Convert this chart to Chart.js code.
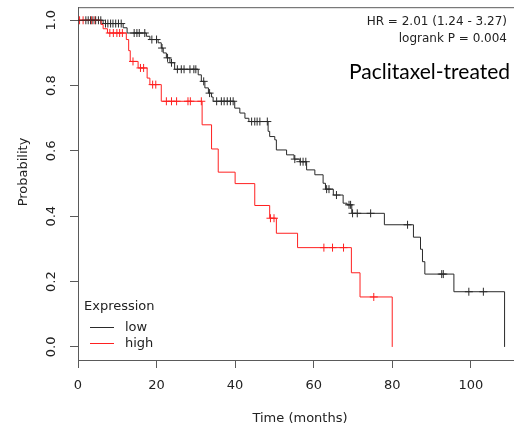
<!DOCTYPE html>
<html>
<head>
<meta charset="utf-8">
<script src="https://cdn.jsdelivr.net/npm/chart.js@4.4.1/dist/chart.umd.min.js"></script>
<style>
  html, body { margin: 0; padding: 0; background: #fff; }
  canvas { display: block; }
</style>
</head>
<body>
<canvas id="km" width="514" height="430"></canvas>
<script>
// Kaplan-Meier steps: event time (months) and survival after that event
const lowTimes = [0, 6.4, 11.5, 12.5, 17.4, 18.3, 20.4, 21.2, 21.7, 22.5, 23.4, 24.6, 30.6, 31.4, 32.3, 33.2, 34.0, 34.4,
  39.9, 41.2, 42.5, 43.5, 48.4, 48.8, 50.1, 50.5, 53.1, 55.0, 56.5, 58.2, 60.3, 62.4, 63.0, 65.0, 67.5, 68.5, 69.7,
  78.0, 85.4, 87.2, 87.7, 88.3, 95.7, 108.6];
const lowSurv = [1, 0.990, 0.977, 0.961, 0.951, 0.941, 0.931, 0.915, 0.900, 0.885, 0.870, 0.850, 0.833, 0.813, 0.793, 0.777, 0.765, 0.752,
  0.731, 0.716, 0.700, 0.690, 0.660, 0.644, 0.634, 0.603, 0.588, 0.575, 0.567, 0.542, 0.527, 0.501, 0.483, 0.465, 0.440, 0.435, 0.409,
  0.374, 0.336, 0.299, 0.261, 0.223, 0.169, 0];
const lowCensor = [2.0, 2.6, 3.2, 3.8, 4.5, 5.2, 5.8, 7.0, 7.6, 8.3, 8.9, 9.6, 10.3, 11.0, 14.3, 15.0, 15.6, 17.0, 18.8,
  20.0, 21.4, 22.8, 23.8, 25.3, 26.3, 27.0, 28.5, 29.5, 30.0, 32.0, 33.5, 35.3, 36.5, 37.2, 38.0, 38.8, 39.5,
  44.2, 45.0, 45.6, 46.3, 48.2, 55.2, 56.6, 57.3, 58.0, 63.3, 63.9, 65.8, 69.0, 69.4, 69.9, 71.1, 74.5, 83.9,
  92.6, 93.0, 99.5, 103.2];

const highTimes = [0, 5.9, 6.4, 7.5, 12.3, 12.9, 13.3, 15.3, 17.6, 18.3, 21.2, 31.6, 34.0, 35.7, 40.0, 45.0, 48.8, 50.5,
  55.9, 69.6, 71.8, 80.0];
const highSurv = [1, 0.987, 0.974, 0.961, 0.941, 0.907, 0.874, 0.854, 0.823, 0.803, 0.752, 0.680, 0.606, 0.535, 0.500, 0.433, 0.394, 0.348,
  0.304, 0.227, 0.153, 0];
const highCensor = [0.4, 1.3, 3.4, 4.3, 8.1, 9.0, 9.9, 10.6, 11.3, 14.0, 15.9, 16.7, 19.0, 19.8, 22.5, 23.8, 25.1, 28.0, 28.6, 31.4,
  49.0, 49.9, 62.6, 64.8, 67.6, 75.3];

const xTicks = [0, 20, 40, 60, 80, 100];
const yTicks = [0, 0.2, 0.4, 0.6, 0.8, 1.0];
const yTickLabels = ['0.0', '0.2', '0.4', '0.6', '0.8', '1.0'];
const groups = ['low', 'high'];
const statLines = ['HR = 2.01 (1.24 - 3.27)', 'logrank P = 0.004'];

const LOW_COLOR = '#2a2a2a';
const HIGH_COLOR = '#ff2020';
const AXIS_COLOR = '#5a5a5a';
const TEXT_COLOR = '#222';
const FONT = '"DejaVu Sans", sans-serif';

function steps(times, surv) {
  return times.map((t, i) => ({ x: t, y: surv[i] }));
}

function survAt(times, surv, t) {
  let s = 1;
  for (let i = 0; i < times.length; i++) if (times[i] <= t) s = surv[i];
  return s;
}

function censorPoints(list, times, surv) {
  return list.map(t => ({ x: t, y: survAt(times, surv, t) }));
}

const decorations = {
  id: 'decorations',
  afterDraw(chart) {
    const { ctx, chartArea: a, scales: { y } } = chart;
    ctx.save();
    // box top
    ctx.strokeStyle = AXIS_COLOR;
    ctx.lineWidth = 1;
    ctx.beginPath();
    ctx.moveTo(a.left, a.top + 0.5);
    ctx.lineTo(a.right, a.top + 0.5);
    ctx.stroke();

    ctx.fillStyle = TEXT_COLOR;
    ctx.font = '13px ' + FONT;
    ctx.textAlign = 'center';
    ctx.textBaseline = 'middle';
    // rotated y tick labels
    yTicks.forEach((v, i) => {
      ctx.save();
      ctx.translate(52, y.getPixelForValue(v));
      ctx.rotate(-Math.PI / 2);
      ctx.fillText(yTickLabels[i], 0, 0);
      ctx.restore();
    });
    ctx.save();
    ctx.translate(24, 172);
    ctx.rotate(-Math.PI / 2);
    ctx.fillText('Probability', 0, 0);
    ctx.restore();

    ctx.fillText('Time (months)', 300, 419);

    // stats
    ctx.textAlign = 'right';
    ctx.font = '12px ' + FONT;
    ctx.fillText(statLines[0], 507, 22);
    ctx.fillText(statLines[1], 507, 39);
    ctx.font = '21px Lato, "Open Sans", sans-serif';
    ctx.fillStyle = '#000';
    ctx.fillText('Paclitaxel-treated', 510, 72);

    // legend
    ctx.textAlign = 'left';
    ctx.fillStyle = TEXT_COLOR;
    ctx.font = '13px ' + FONT;
    ctx.fillText('Expression', 84, 307);
    [[LOW_COLOR, 327.5], [HIGH_COLOR, 343.5]].forEach(([c, yy], i) => {
      ctx.strokeStyle = c;
      ctx.beginPath();
      ctx.moveTo(90, yy);
      ctx.lineTo(114, yy);
      ctx.stroke();
      ctx.fillText(groups[i], 125, yy);
    });
    ctx.restore();
  }
};

new Chart(document.getElementById('km'), {
  type: 'scatter',
  data: {
    datasets: [
      { label: 'low', data: steps(lowTimes, lowSurv), showLine: true, stepped: 'before',
        borderColor: LOW_COLOR, borderWidth: 1, pointRadius: 0 },
      { label: 'high', data: steps(highTimes, highSurv), showLine: true, stepped: 'before',
        borderColor: HIGH_COLOR, borderWidth: 1, pointRadius: 0 },
      { label: 'low censored', data: censorPoints(lowCensor, lowTimes, lowSurv), showLine: false,
        pointStyle: 'cross', pointRadius: 4, borderColor: LOW_COLOR, borderWidth: 1 },
      { label: 'high censored', data: censorPoints(highCensor, highTimes, highSurv), showLine: false,
        pointStyle: 'cross', pointRadius: 4, borderColor: HIGH_COLOR, borderWidth: 1 }
    ]
  },
  options: {
    responsive: false,
    animation: false,
    devicePixelRatio: 1,
    layout: { autoPadding: false, padding: { top: 7, right: 0, left: 0, bottom: 0 } },
    plugins: { legend: { display: false }, tooltip: { enabled: false } },
    scales: {
      x: {
        type: 'linear', min: 0, max: 111,
        afterFit: s => { s.height = 70; },
        afterBuildTicks: s => { s.ticks = xTicks.map(v => ({ value: v })); },
        grid: { display: true, drawOnChartArea: false, drawTicks: true, tickLength: 8, color: AXIS_COLOR },
        border: { display: true, color: AXIS_COLOR },
        ticks: { color: TEXT_COLOR, font: { family: FONT, size: 13 }, padding: 10, maxRotation: 0 }
      },
      y: {
        type: 'linear', min: -0.04, max: 1.04,
        afterFit: s => { s.width = 78; },
        afterBuildTicks: s => { s.ticks = yTicks.map(v => ({ value: v })); },
        grid: { display: true, drawOnChartArea: false, drawTicks: true, tickLength: 8, color: AXIS_COLOR },
        border: { display: true, color: AXIS_COLOR },
        ticks: { callback: () => '', padding: 0 }
      }
    }
  },
  plugins: [decorations]
});
</script>
</body>
</html>
